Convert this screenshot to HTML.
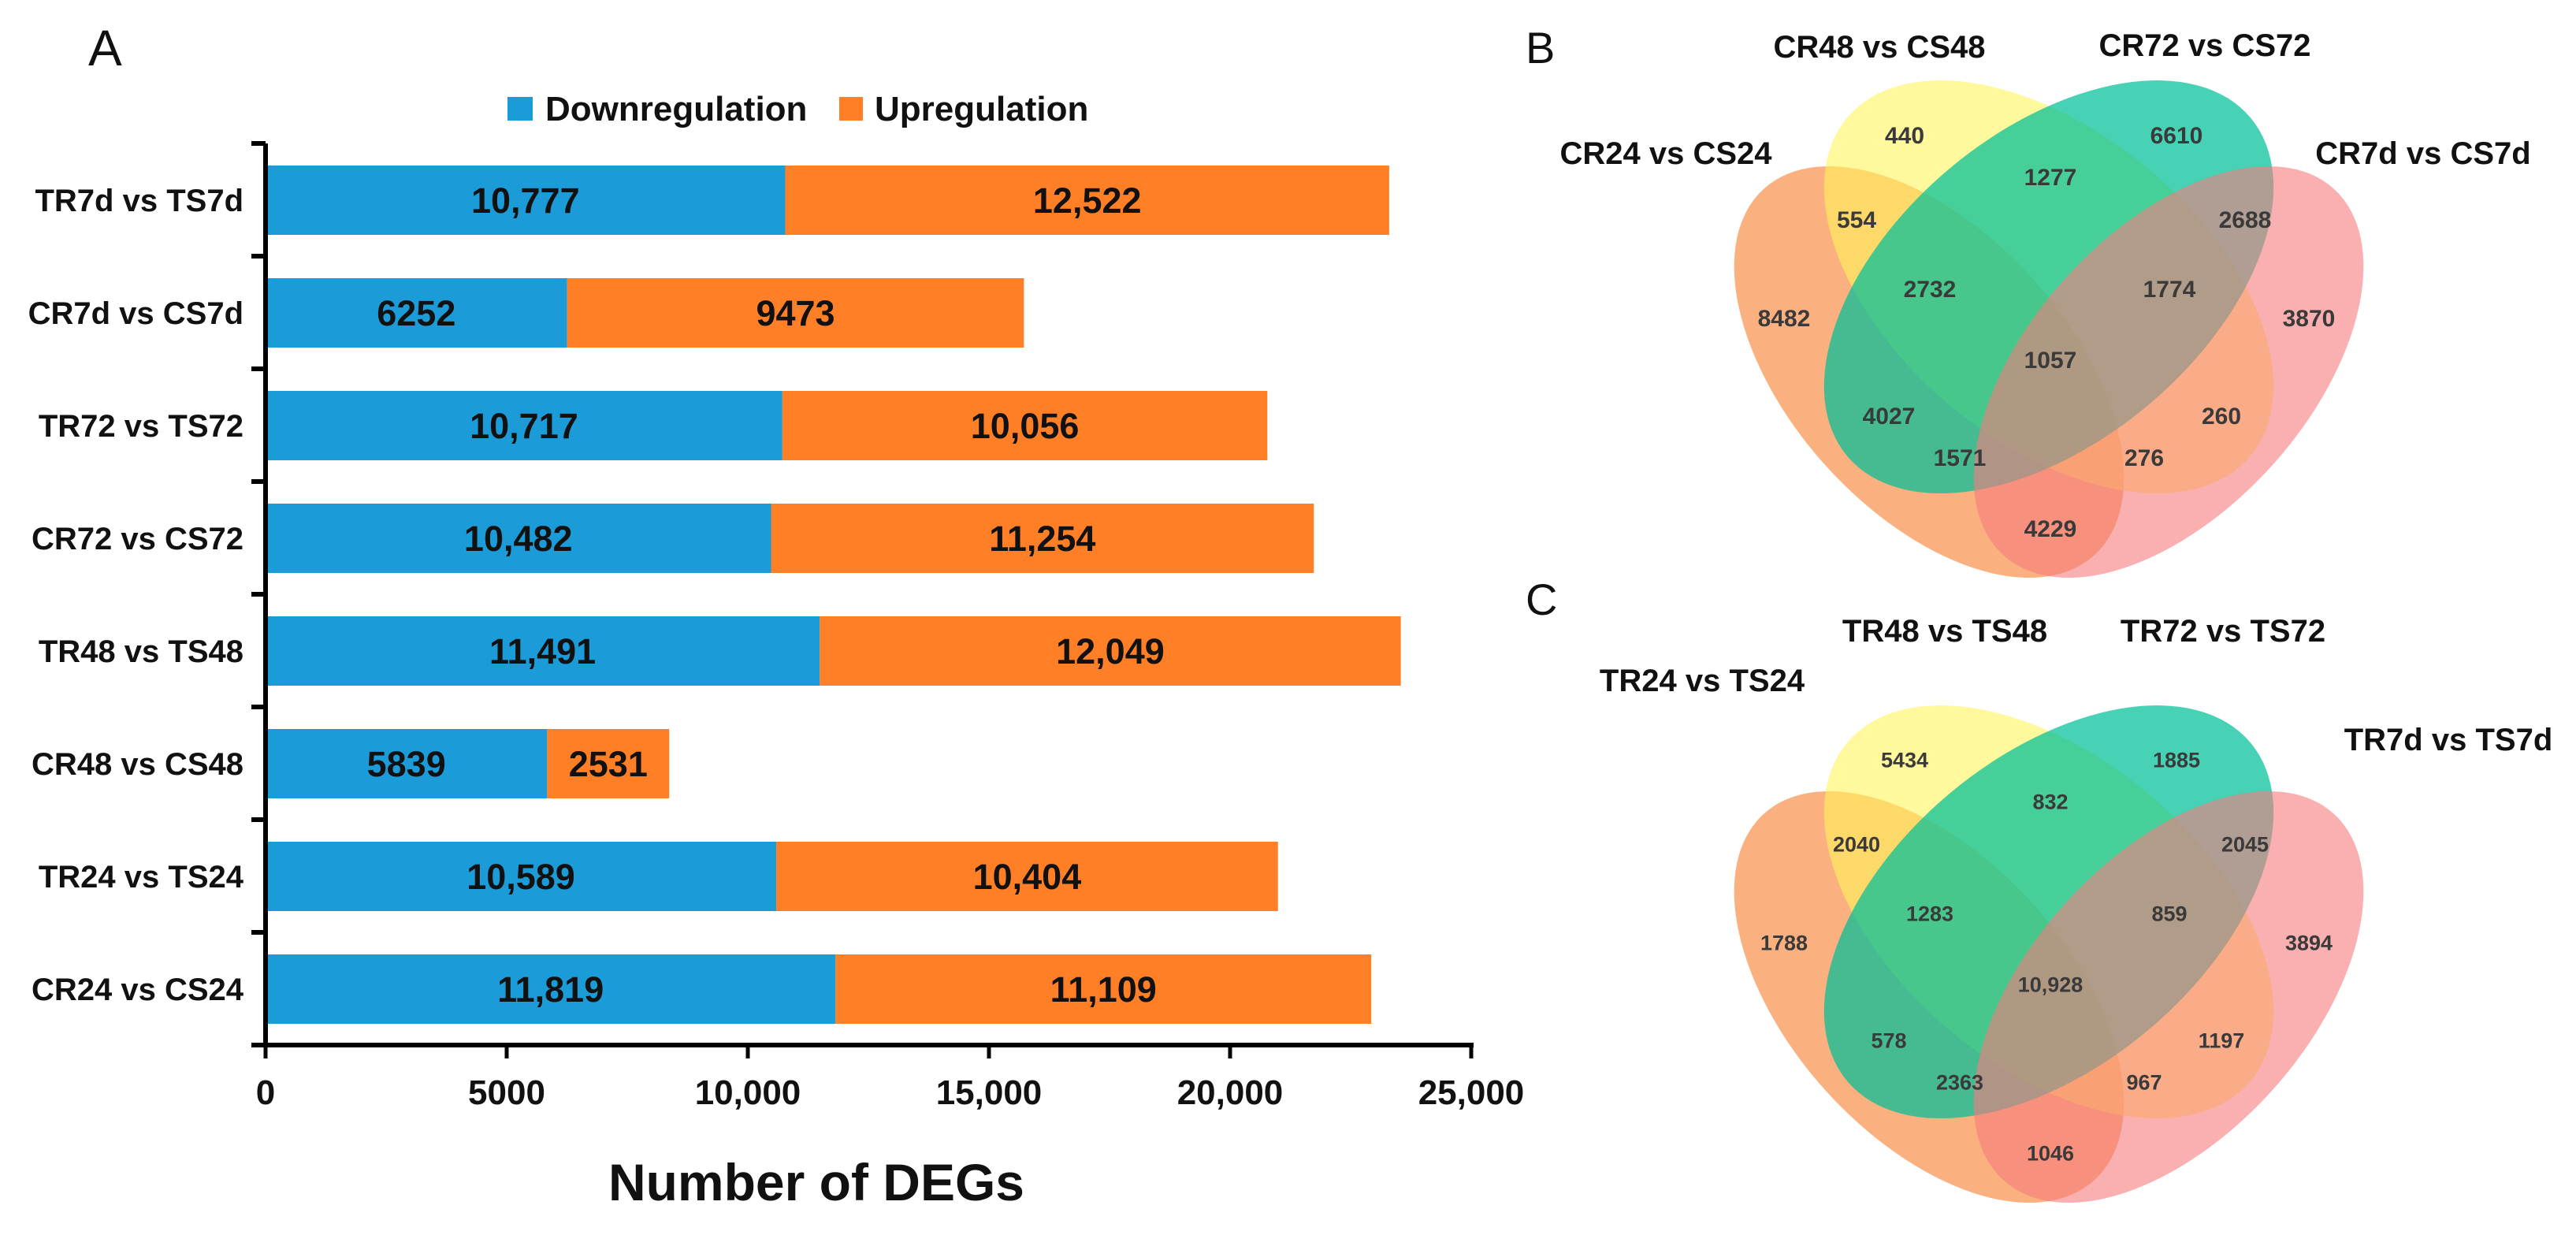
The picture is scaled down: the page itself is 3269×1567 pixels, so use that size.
<!DOCTYPE html>
<html><head><meta charset="utf-8">
<style>
html,body{margin:0;padding:0;background:#fff;}
svg{display:block;font-family:"Liberation Sans",Arial,sans-serif;}
</style></head>
<body>
<svg id="fig" width="3269" height="1567" viewBox="0 0 3269 1567" xmlns="http://www.w3.org/2000/svg">
  <text x="112" y="83" font-size="64" fill="#111">A</text>
  <g>
    <rect x="644" y="123" width="32" height="30" fill="#1B9BD7"/>
    <text x="692" y="153" font-size="44" font-weight="bold" fill="#111">Downregulation</text>
    <rect x="1065" y="123" width="30" height="30" fill="#FE7F26"/>
    <text x="1110" y="153" font-size="44" font-weight="bold" fill="#111">Upregulation</text>
  </g>
  <g id="bars"></g>
  <text x="1036" y="1523" font-size="66" font-weight="bold" text-anchor="middle" fill="#111">Number of DEGs</text>

  <text x="1936" y="80" font-size="56" fill="#111">B</text>
  <text x="1936" y="780" font-size="56" fill="#111">C</text>
  <g id="vennB"></g>
  <g id="vennC"></g>
</svg>
<script>
// ---- Bar chart data ----
const categories = ["TR7d vs TS7d","CR7d vs CS7d","TR72 vs TS72","CR72 vs CS72","TR48 vs TS48","CR48 vs CS48","TR24 vs TS24","CR24 vs CS24"];
const downValues = [10777, 6252, 10717, 10482, 11491, 5839, 10589, 11819];
const upValues = [12522, 9473, 10056, 11254, 12049, 2531, 10404, 11109];
const xTicks = [0, 5000, 10000, 15000, 20000, 25000];
const xTickLabels = ["0","5000","10,000","15,000","20,000","25,000"];

const NS = "http://www.w3.org/2000/svg";
function mk(tag, attrs, parent){const e=document.createElementNS(NS,tag);for(const k in attrs)e.setAttribute(k,attrs[k]);parent.appendChild(e);return e;}
function fmt(v){return v>=10000? v.toLocaleString("en-US"): String(v);}

const X0=337, X1=1867, XMAX=25000, YTOP=182, BAND=143;
const xs = v => X0 + (v/XMAX)*(X1-X0);
const bandY = i => YTOP + i*BAND;

const g = document.getElementById("bars");
categories.forEach((c,i)=>{
  const y = bandY(i)+28, h=88, cy=y+h/2;
  const r1 = mk("rect",{x:xs(0)+3,y:y,width:xs(downValues[i])-xs(0)-3,height:h,fill:"#1B9BD7"},g);
  
  
  const r2 = mk("rect",{x:xs(downValues[i]),y:y,width:xs(downValues[i]+upValues[i])-xs(downValues[i]),height:h,fill:"#FE7F26"},g);
  
  
  const t1 = mk("text",{x:(xs(0)+xs(downValues[i]))/2,y:cy+16,"font-size":45,"font-weight":"bold","text-anchor":"middle",fill:"#111"},g);
  t1.textContent = fmt(downValues[i]);
  
  
  const t2 = mk("text",{x:(xs(downValues[i])+xs(downValues[i]+upValues[i]))/2,y:cy+16,"font-size":45,"font-weight":"bold","text-anchor":"middle",fill:"#111"},g);
  t2.textContent = fmt(upValues[i]);
  
  
  const cl = mk("text",{x:309,y:cy+14,"font-size":40,"font-weight":"bold","text-anchor":"end",fill:"#111"},g);
  cl.textContent = c;
  
  
});
const ya = mk("line",{x1:X0,y1:YTOP,x2:X0,y2:bandY(8)+3,stroke:"#000","stroke-width":6},g);


for(let i=0;i<=8;i++){
  const tk = mk("line",{x1:319,y1:bandY(i),x2:X0,y2:bandY(i),stroke:"#000","stroke-width":6},g);
  
  
}
const xa = mk("line",{x1:319,y1:bandY(8),x2:X1+3,y2:bandY(8),stroke:"#000","stroke-width":6},g);


xTicks.forEach((v,i)=>{
  const tk = mk("line",{x1:xs(v),y1:bandY(8),x2:xs(v),y2:bandY(8)+17,stroke:"#000","stroke-width":5},g);
  
  
  const tl = mk("text",{x:xs(v),y:1401,"font-size":44,"font-weight":"bold","text-anchor":"middle",fill:"#111"},g);
  tl.textContent = xTickLabels[i];
  
  
});

// ---- Venn data ----
const vennBLabels = ["CR24 vs CS24","CR48 vs CS48","CR72 vs CS72","CR7d vs CS7d"];
const vennBValues = ["440","6610","1277","554","2688","2732","1774","8482","3870","1057","4027","260","1571","276","4229"];
const vennCLabels = ["TR24 vs TS24","TR48 vs TS48","TR72 vs TS72","TR7d vs TS7d"];
const vennCValues = ["5434","1885","832","2040","2045","1283","859","1788","3894","10,928","578","1197","2363","967","1046"];

const regionPos = [[-190,-304],[155,-304],[-5,-251],[-251,-197],[242,-197],[-158,-109],[146,-109],[-343,-72],[323,-72],[-5,-19],[-210,52],[212,52],[-120,105],[114,105],[-5,195]];
function drawVenn(gid, cx, cy, labels, values, labelPos, fs){
  const vg=document.getElementById(gid);
  const ells=[
    {dx:-159,dy:-3,a:313,b:177,rot:48,fill:"#F7873A",op:0.65,n:"ellipse-set-1"},
    {dx:-7,dy:-111,a:334,b:196,rot:40,fill:"#FFF35A",op:0.6,n:"ellipse-set-2"},
    {dx:-7,dy:-111,a:334,b:196,rot:-40,fill:"#00BF98",op:0.72,n:"ellipse-set-3"},
    {dx:145,dy:-3,a:313,b:177,rot:-48,fill:"#F7797D",op:0.6,n:"ellipse-set-4"}];
  ells.forEach(e=>{
    const el=mk("ellipse",{cx:cx+e.dx,cy:cy+e.dy,rx:e.a,ry:e.b,fill:e.fill,"fill-opacity":e.op,transform:`rotate(${e.rot} ${cx+e.dx} ${cy+e.dy})`},vg);
    
    
  });
  values.forEach((v,i)=>{
    const t=mk("text",{x:cx+regionPos[i][0],y:cy+regionPos[i][1]+fs*0.36,"font-size":fs,"font-weight":"bold","text-anchor":"middle",fill:"#3a3a3a"},vg);
    t.textContent=v;
    
    
  });
  labels.forEach((l,i)=>{
    const t=mk("text",{x:labelPos[i][0],y:labelPos[i][1]+14,"font-size":40,"font-weight":"bold","text-anchor":"middle",fill:"#111"},vg);
    t.textContent=l;
    
    
  });
}
drawVenn("vennB",2607,475,vennBLabels,vennBValues,[[2114,194],[2385,59],[2798,57],[3075,194]],30);
drawVenn("vennC",2607,1268,vennCLabels,vennCValues,[[2160,863],[2468,800],[2821,800],[3107,938]],27);
</script>
</body></html>
